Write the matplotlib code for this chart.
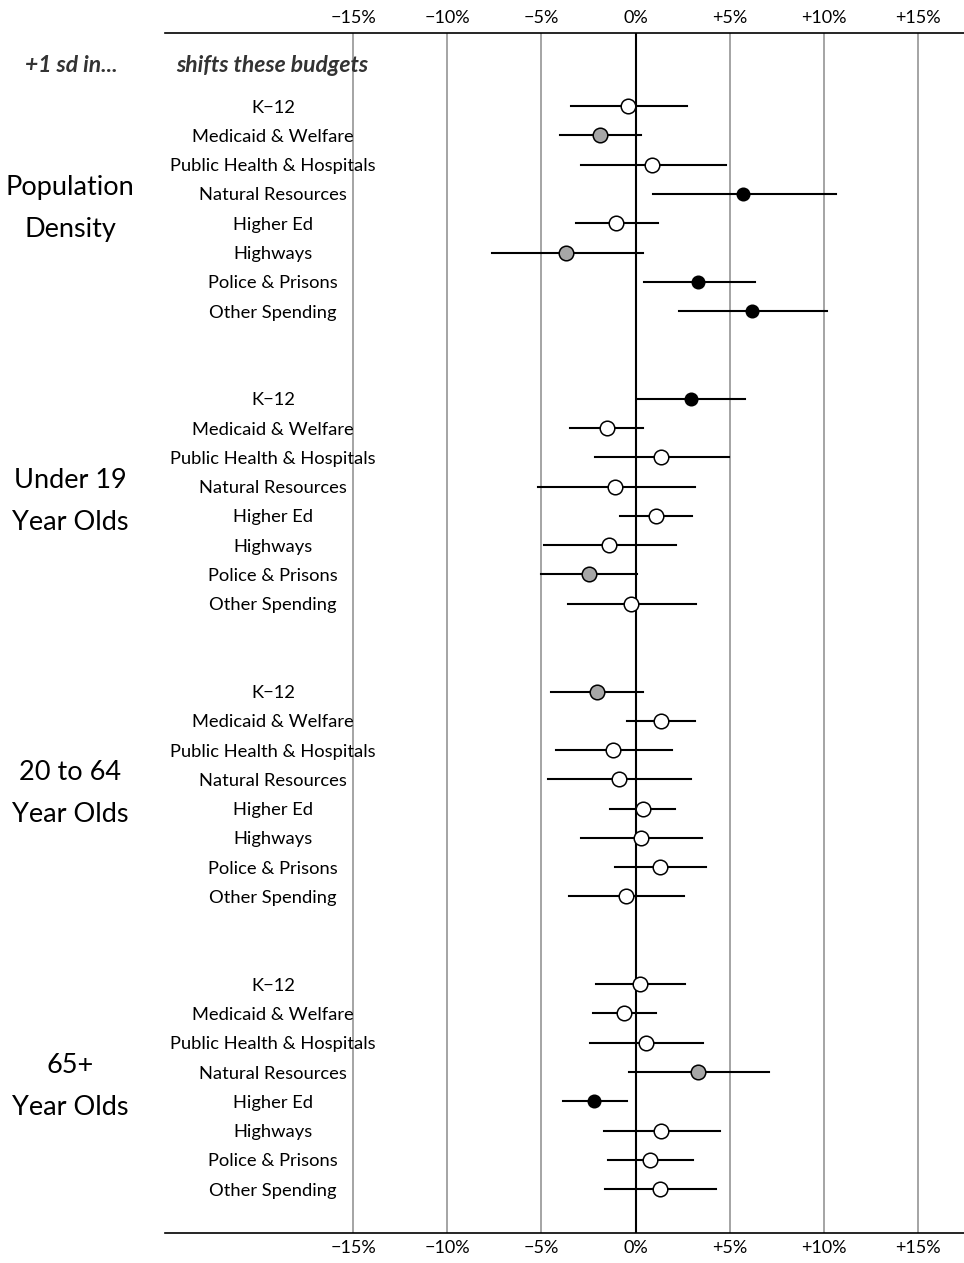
import matplotlib
matplotlib.use("Agg")
import matplotlib.pyplot as plt
from matplotlib.transforms import blended_transform_factory

plt.rcParams['font.family'] = ['Lato', 'DejaVu Sans']

groups = ["Population\nDensity", "Under 19\nYear Olds", "20 to 64\nYear Olds", "65+\nYear Olds"]
budgets = ["K\u221212", "Medicaid & Welfare", "Public Health & Hospitals", "Natural Resources",
           "Higher Ed", "Highways", "Police & Prisons", "Other Spending"]

# percent change in each budget for +1 sd, with interval ends
# sig: 0 = not significant, 1 = weak, 2 = strong
pop_est = [-0.41, -1.90, 0.88, 5.70, -1.03, -3.70, 3.33, 6.21]
pop_lo = [-3.45, -4.02, -2.89, 0.94, -3.15, -7.64, 0.44, 2.32]
pop_hi = [2.71, 0.27, 4.78, 10.67, 1.17, 0.41, 6.35, 10.19]
pop_sig = [0, 1, 0, 2, 0, 1, 2, 2]

u19_est = [2.92, -1.54, 1.36, -1.10, 1.08, -1.40, -2.48, -0.25]
u19_lo = [0.12, -3.49, -2.14, -5.19, -0.85, -4.89, -5.03, -3.59]
u19_hi = [5.80, 0.42, 4.94, 3.17, 3.02, 2.16, 0.09, 3.22]
u19_sig = [2, 0, 0, 0, 0, 0, 1, 0]

mid_est = [-2.07, 1.33, -1.19, -0.90, 0.37, 0.27, 1.29, -0.51]
mid_lo = [-4.48, -0.44, -4.23, -4.64, -1.36, -2.92, -1.08, -3.56]
mid_hi = [0.41, 3.15, 1.96, 2.92, 2.12, 3.52, 3.72, 2.58]
mid_sig = [1, 0, 0, 0, 0, 0, 0, 0]

old_est = [0.25, -0.60, 0.55, 3.31, -2.20, 1.34, 0.78, 1.31]
old_lo = [-2.11, -2.25, -2.41, -0.36, -3.84, -1.70, -1.49, -1.61]
old_hi = [2.62, 1.11, 3.59, 7.09, -0.48, 4.51, 3.06, 4.30]
old_sig = [0, 0, 0, 1, 2, 0, 0, 0]

ticks = [-15, -10, -5, 0, 5, 10, 15]
tick_labels = ["\u221215%", "\u221210%", "\u22125%", "0%", "+5%", "+10%", "+15%"]

series = [(pop_est, pop_lo, pop_hi, pop_sig),
          (u19_est, u19_lo, u19_hi, u19_sig),
          (mid_est, mid_lo, mid_hi, mid_sig),
          (old_est, old_lo, old_hi, old_sig)]

W, H = 964, 1263
fig = plt.figure(figsize=(W / 100, H / 100), dpi=100)
ax = fig.add_axes([165 / W, 30 / H, 1 - 165 / W, 1200 / H])

for t in ticks:
    if t == 0:
        ax.axvline(t, color='black', lw=1.5, zorder=2)
    else:
        ax.axvline(t, color='#8c8c8c', lw=1.1, zorder=1)

face = {0: 'white', 1: '#a6a6a6', 2: 'black'}
msize = {0: 10.5, 1: 10.5, 2: 9}

lbl = blended_transform_factory(fig.transFigure, ax.transData)

for g, (est, lo, hi, sig) in enumerate(series):
    base = g * 10
    for i in range(len(budgets)):
        y = base + i
        ax.plot([lo[i], hi[i]], [y, y], color='black', lw=1.5, zorder=3)
        ax.plot(est[i], y, 'o', ms=msize[sig[i]], mfc=face[sig[i]],
                mec='black', mew=1.1, zorder=4)
        ax.text(273 / W, y, budgets[i], transform=lbl, ha='center', va='center_baseline',
                fontsize=13.2)
    ax.text(70 / W, base + 3.5, groups[g], transform=lbl, ha='center', va='center',
            fontsize=19.5, linespacing=1.85)

ax.text(71 / W, -1.45, "+1 sd in...", transform=lbl, ha='center', va='center_baseline',
        fontsize=16.5, fontweight='bold', fontstyle='italic', color='#333333')
ax.text(272 / W, -1.45, "shifts these budgets", transform=lbl, ha='center', va='center_baseline',
        fontsize=16.5, fontweight='bold', fontstyle='italic', color='#333333')

ax.set_xlim(-25, 17.45)
ax.set_ylim(38.5, -2.5)
ax.set_yticks([])
ax.set_xticks(ticks)
ax.set_xticklabels(tick_labels)
ax.tick_params(axis='x', top=True, labeltop=True, bottom=True, labelbottom=True,
               length=0, labelsize=13, pad=5)
for s in ['left', 'right']:
    ax.spines[s].set_visible(False)
for s in ['top', 'bottom']:
    ax.spines[s].set_linewidth(1.2)

fig.savefig("out.png", dpi=100)
